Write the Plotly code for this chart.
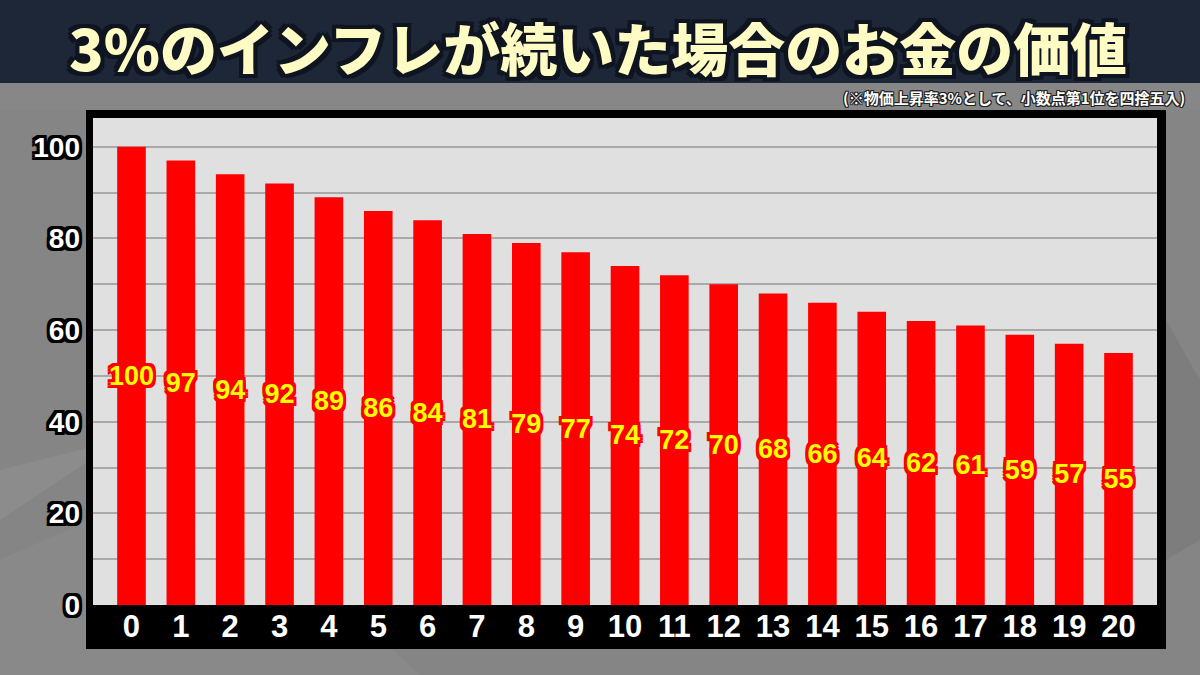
import plotly.graph_objects as go

years = [str(i) for i in range(21)]
values = [100, 97, 94, 92, 89, 86, 84, 81, 79, 77, 74, 72, 70, 68, 66, 64, 62, 61, 59, 57, 55]
y_ticks = [0, 20, 40, 60, 80, 100]
title_text = "3%のインフレが続いた場合のお金の価値"
subtitle_text = "(※物価上昇率3%として、小数点第1位を四捨五入)"

W, H = 1200, 675
L, R, T, B = 93, 1157, 118, 605


def px(x):
    return (x - L) / (R - L)


def py(y):
    return (B - y) / (B - T)


def outline(color, w):
    offs = [(-w, -w), (w, -w), (-w, w), (w, w), (0, w), (w, 0), (0, -w), (-w, 0)]
    return ", ".join(f"{a}px {b}px 0 {color}" for a, b in offs)


NARROW = "Liberation Sans Narrow, Liberation Sans, Arial, sans-serif"

fig = go.Figure()
fig.add_trace(go.Bar(
    x=years, y=values, width=0.58,
    marker=dict(color="#ff0000", line=dict(width=0)),
    text=[str(v) for v in values],
    textposition="inside", insidetextanchor="middle", textangle=0,
    constraintext="none", cliponaxis=False,
    textfont=dict(color="#ffff00", size=27, family=NARROW, weight="bold",
                  shadow=outline("#ff0000", 3)),
    hoverinfo="skip",
))

shapes = [
    # background subtle lighter zones
    dict(type="path", xref="paper", yref="paper", layer="below",
         path=f"M {px(0)} {py(520)} L {px(120)} {py(440)} L {px(0)} {py(470)} Z",
         fillcolor="rgba(255,255,255,0.06)", line=dict(width=0)),
    dict(type="path", xref="paper", yref="paper", layer="below",
         path=f"M {px(0)} {py(560)} L {px(200)} {py(470)} L {px(420)} {py(675)} L {px(0)} {py(675)} Z",
         fillcolor="rgba(255,255,255,0.04)", line=dict(width=0)),
    dict(type="path", xref="paper", yref="paper", layer="below",
         path=f"M {px(1166)} {py(320)} L {px(1200)} {py(380)} L {px(1200)} {py(540)} L {px(1166)} {py(560)} Z",
         fillcolor="rgba(0,0,0,0.06)", line=dict(width=0)),
    # title bar
    dict(type="rect", xref="paper", yref="paper", layer="below",
         x0=px(0), x1=px(W), y0=py(83), y1=py(0),
         fillcolor="#1d2738", line=dict(width=0)),
    dict(type="rect", xref="paper", yref="paper", layer="below",
         x0=px(0), x1=px(W), y0=py(110), y1=py(83),
         fillcolor="#878787", line=dict(width=0)),
    # frame
    dict(type="rect", xref="paper", yref="paper", layer="below",
         x0=px(86), x1=px(1166), y0=py(649), y1=py(110),
         fillcolor="#000000", line=dict(width=0)),
    # plot area
    dict(type="rect", xref="paper", yref="paper", layer="below",
         x0=0, x1=1, y0=0, y1=1,
         fillcolor="#e0e0e0", line=dict(width=0)),
]

annotations = [
    dict(text=title_text, xref="paper", yref="paper", x=px(598), y=py(46),
         xanchor="center", yanchor="middle", showarrow=False,
         font=dict(family="Noto Sans CJK JP", size=57, weight=900, color="#fffbc4",
                   shadow=outline("#0f1520", 4))),
    dict(text=subtitle_text, xref="paper", yref="paper", x=px(1187), y=py(97),
         xanchor="right", yanchor="middle", showarrow=False,
         font=dict(family="Noto Sans CJK JP", size=15, weight=700, color="#ffffff",
                   shadow=outline("#222222", 1))),
]

fig.update_layout(
    width=W, height=H,
    margin=dict(l=L, r=W - R, t=T, b=H - B, pad=0),
    paper_bgcolor="#858585",
    plot_bgcolor="rgba(0,0,0,0)",
    showlegend=False,
    shapes=shapes,
    annotations=annotations,
    xaxis=dict(type="category", range=[-0.78, 20.78], showgrid=False, zeroline=False,
               ticks="", showline=False, fixedrange=True, automargin=False,
               tickfont=dict(family=NARROW, size=31, color="#ffffff", weight="bold")),
    yaxis=dict(range=[0, 106.3], tickvals=y_ticks, showgrid=True, gridcolor="#a9a9a9",
               gridwidth=1.5, zeroline=False, ticks="", showline=False, automargin=False,
               fixedrange=True,
               minor=dict(dtick=10, showgrid=True, gridcolor="#a9a9a9", gridwidth=1.5),
               ticklabelstandoff=12,
               tickfont=dict(family=NARROW, size=28, color="#ffffff", weight="bold",
                             shadow=outline("#000000", 3))),
)

fig.write_html("out.html", config={"displayModeBar": False},
               post_script="document.body.style.margin='0';document.body.style.overflow='hidden';")
